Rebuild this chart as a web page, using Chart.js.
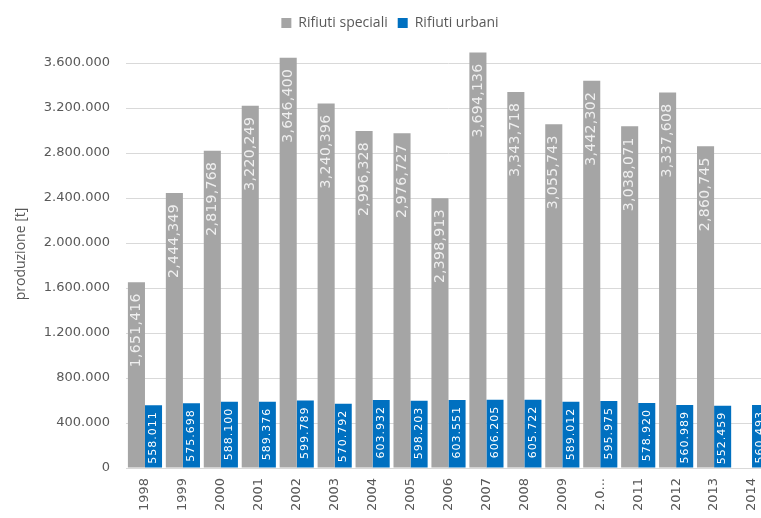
<!DOCTYPE html>
<html>
<head>
<meta charset="utf-8">
<script src="https://cdn.jsdelivr.net/npm/chart.js@4/dist/chart.umd.min.js"></script>
<style>
    html, body { margin: 0; padding: 0; background: #fff; overflow: hidden; }
    #wrap { width: 810px; height: 518px; position: relative; }
</style>
</head>
<body>
<div id="wrap"><canvas id="wasteChart"></canvas></div>
<script>
// Categories as shown on the axis (Excel truncated 2010 to "2.0...")
const years = ['1998', '1999', '2000', '2001', '2002', '2003', '2004', '2005', '2006',
               '2007', '2008', '2009', '2.0...', '2011', '2012', '2013', '2014'];

// Production in tonnes
const rifiutiSpeciali = [1651416, 2444349, 2819768, 3220249, 3646400, 3240396, 2996328, 2976727, 2398913,
                         3694136, 3343718, 3055743, 3442302, 3038071, 3337608, 2860745, null];
const rifiutiUrbani = [558011, 575698, 588100, 589376, 599789, 570792, 603932, 598203, 603551,
                       606205, 605722, 589012, 595975, 578920, 560989, 552459, 560493];

// Y axis ticks
const yTicks = [0, 400000, 800000, 1200000, 1600000, 2000000, 2400000, 2800000, 3200000, 3600000];

const textColor = '#595959';
const gridColor = '#d9d9d9';

// Group thousands with a given separator
function groupThousands(value, sep) {
    return String(Math.round(value)).replace(/\B(?=(\d{3})+(?!\d))/g, sep);
}

// Draw rotated value labels inside the top of each bar
const barLabels = {
    id: 'barLabels',
    afterDatasetsDraw(chart) {
        const ctx = chart.ctx;
        chart.data.datasets.forEach((ds, di) => {
            const meta = chart.getDatasetMeta(di);
            const style = ds.labelStyle;
            meta.data.forEach((bar, i) => {
                const value = ds.data[i];
                if (value === null || value === undefined) return;
                ctx.save();
                ctx.font = style.font;
                ctx.fillStyle = style.color;
                ctx.letterSpacing = style.spacing;
                ctx.textAlign = 'right';
                ctx.textBaseline = 'middle';
                ctx.translate(bar.x, bar.y + style.offset);
                ctx.rotate(-Math.PI / 2);
                ctx.fillText(groupThousands(value, style.sep), 0, 0);
                ctx.restore();
            });
        });
    }
};

const chartCanvas = document.getElementById('wasteChart');

new Chart(chartCanvas, {
    type: 'bar',
    data: {
        labels: years,
        datasets: [
            {
                label: 'Rifiuti speciali',
                data: rifiutiSpeciali,
                backgroundColor: '#a5a5a5',
                categoryPercentage: 0.9,
                barPercentage: 1.0,
                labelStyle: { font: '14px "DejaVu Sans"', color: '#efefef', spacing: '0.3px', sep: ',', offset: 11 }
            },
            {
                label: 'Rifiuti urbani',
                data: rifiutiUrbani,
                backgroundColor: '#0070c0',
                categoryPercentage: 0.9,
                barPercentage: 1.0,
                labelStyle: { font: '11px "DejaVu Sans"', color: '#ffffff', spacing: '1px', sep: '.', offset: 6 }
            }
        ]
    },
    options: {
        responsive: true,
        maintainAspectRatio: false,
        animation: false,
        layout: {
            padding: { left: 9, right: 39, top: 6, bottom: 0 }
        },
        plugins: {
            legend: {
                position: 'top',
                labels: {
                    color: textColor,
                    font: { family: 'Open Sans', size: 14 },
                    boxWidth: 10,
                    boxHeight: 10,
                    padding: 10
                }
            },
            tooltip: { enabled: false }
        },
        scales: {
            x: {
                grid: { display: false, drawTicks: false },
                border: { display: true, color: gridColor },
                ticks: {
                    color: textColor,
                    font: { family: 'DejaVu Sans', size: 13 },
                    minRotation: 90,
                    maxRotation: 90,
                    padding: 10,
                    autoSkip: false
                },
                afterFit: function(scale) {
                    scale.height = 50;
                }
            },
            y: {
                min: 0,
                max: 3805000,
                grid: { color: gridColor, drawTicks: false },
                border: { display: false },
                title: {
                    display: true,
                    text: 'produzione [t]',
                    color: textColor,
                    font: { family: 'Open Sans', size: 14 }
                },
                ticks: {
                    color: textColor,
                    font: { family: 'DejaVu Sans', size: 13 },
                    padding: 16,
                    callback: function(value) {
                        return groupThousands(value, '.');
                    }
                },
                afterBuildTicks: function(scale) {
                    scale.ticks = yTicks.map(v => ({ value: v }));
                },
                afterFit: function(scale) {
                    scale.width = 117;
                }
            }
        }
    },
    plugins: [barLabels]
});
</script>
</body>
</html>
